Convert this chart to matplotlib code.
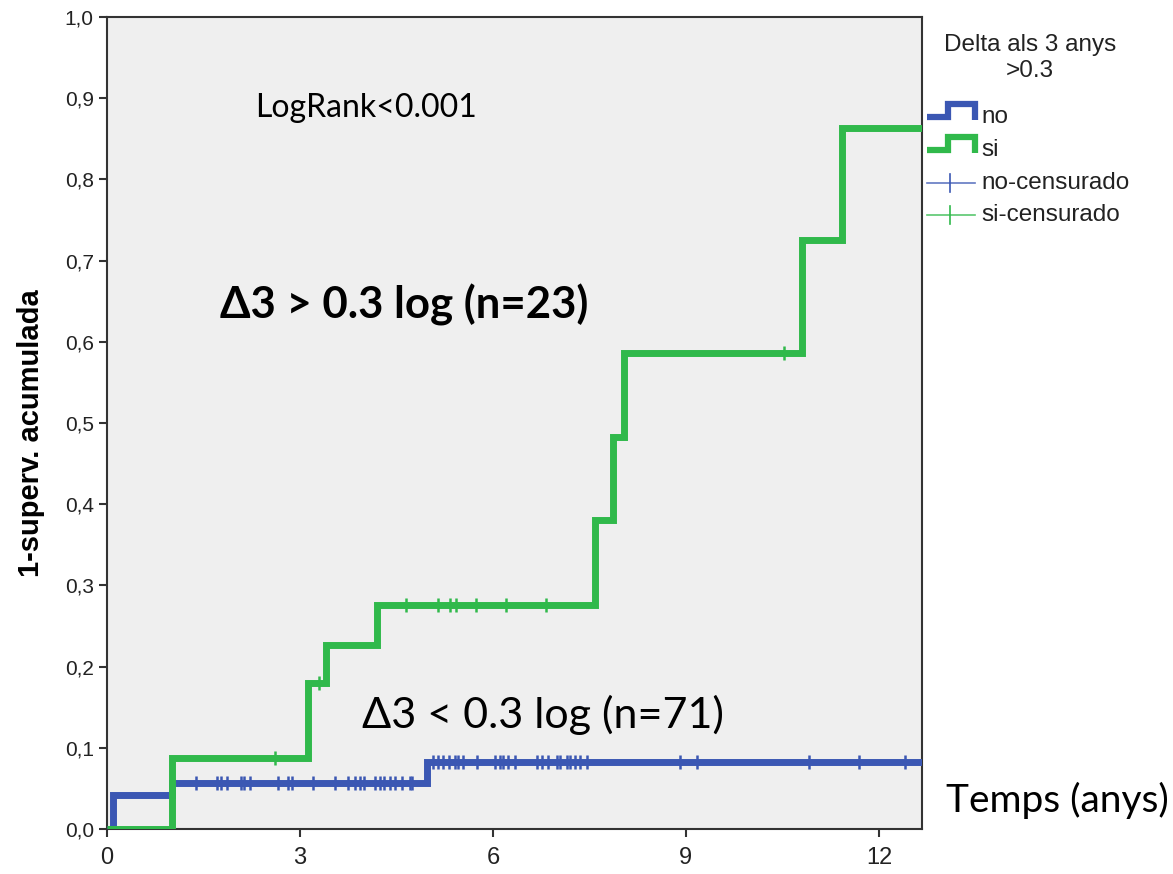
import numpy as np
import matplotlib
matplotlib.use("Agg")
import matplotlib.pyplot as plt

# cumulative incidence (1 - survival), Kaplan-Meier steps
green_times = [0.0, 1.01, 3.13, 3.40, 4.20, 7.59, 7.87, 8.03, 10.80, 11.42]
green_vals = [0.0, 0.087, 0.180, 0.227, 0.276, 0.381, 0.483, 0.586, 0.725, 0.863]
green_cens = [2.61, 3.30, 4.65, 5.15, 5.33, 5.43, 5.74, 6.20, 6.83, 10.52]

blue_times = [0.0, 0.10, 1.01, 4.98]
blue_vals = [0.0, 0.042, 0.057, 0.082]
blue_cens = [1.39, 1.71, 1.78, 1.86, 2.09, 2.13, 2.22, 2.66, 2.82, 2.87,
             3.21, 3.55, 3.75, 3.86, 3.93, 3.99, 4.17, 4.25, 4.30, 4.40,
             4.48, 4.58, 4.71, 4.74,
             5.07, 5.15, 5.23, 5.31, 5.41, 5.46, 5.54, 5.75, 6.03, 6.11,
             6.16, 6.24, 6.35, 6.68, 6.76, 6.86, 6.99, 7.05, 7.15, 7.20,
             7.28, 7.36, 7.46, 8.91, 9.17, 10.91, 11.69, 12.41]

x_max = 12.67
x_ticks = [0, 3, 6, 9, 12]
y_ticks = [0.0, 0.1, 0.2, 0.3, 0.4, 0.5, 0.6, 0.7, 0.8, 0.9, 1.0]

BLUE = "#3b57b3"
GREEN = "#30b94b"
W, H = 1173, 874
tick_font = ["Liberation Sans Narrow", "Liberation Sans", "DejaVu Sans"]
note_font = ["Lato", "DejaVu Sans"]


def step_value(times, vals, t):
    idx = np.searchsorted(times, t, side="right") - 1
    return np.asarray(vals)[idx]


fig = plt.figure(figsize=(W / 100, H / 100), dpi=100)
ax = fig.add_axes([107 / W, 1 - 829 / H, (922 - 107) / W, (829 - 17) / H])
ax.set_facecolor("#efefef")

for times, vals, cens, color in [(blue_times, blue_vals, blue_cens, BLUE),
                                 (green_times, green_vals, green_cens, GREEN)]:
    xs = list(times) + [x_max]
    ys = list(vals) + [vals[-1]]
    ax.step(xs, ys, where="post", color=color, lw=5,
            solid_joinstyle="miter", solid_capstyle="butt", zorder=3)
    ax.plot(cens, step_value(times, vals, cens), ls="none", marker="|",
            ms=10, mew=1.8, color=color, zorder=4)

ax.set_xlim(0, x_max)
ax.set_ylim(0, 1.0)
ax.set_xticks(x_ticks)
ax.set_yticks(y_ticks)
ax.set_yticklabels([f"{v:.1f}".replace(".", ",") for v in y_ticks])
ax.tick_params(direction="out", length=6, width=1.5, color="#333333",
               labelsize=15, labelcolor="#222222")
ax.tick_params(axis="x", labelsize=17, pad=7)
for lab in ax.get_xticklabels() + ax.get_yticklabels():
    lab.set_family(tick_font)
for sp in ax.spines.values():
    sp.set_color("#333333")
    sp.set_linewidth(1.5)

ax.set_ylabel("1-superv. acumulada", fontsize=21, fontweight="bold",
              family=["Liberation Sans", "DejaVu Sans"])
ax.yaxis.set_label_coords((45 - 107) / 815, 0.488)

# annotations (pixel positions converted to figure fractions)
def ftext(x, y, s, **kw):
    fig.text(x / W, 1 - y / H, s, **kw)

ftext(255, 108, "LogRank<0.001", fontsize=23, family=note_font, va="center")
ftext(220, 305, "Δ3 > 0.3 log (n=23)", fontsize=31.5, fontweight="bold",
      family=note_font, va="center")
ftext(362, 715, "Δ3 < 0.3 log (n=71)", fontsize=31, family=note_font,
      va="center")
ftext(946, 800, "Temps (anys)", fontsize=28, family=note_font, va="center")

# legend drawn on an overlay in pixel coordinates
lg = fig.add_axes([0, 0, 1, 1], facecolor="none")
lg.set_xlim(0, W)
lg.set_ylim(H, 0)
lg.axis("off")
lg.text(1030, 45, "Delta als 3 anys", fontsize=17.5, family=tick_font,
        ha="center", va="center", color="#222222")
lg.text(1030, 71, ">0.3", fontsize=17.5, family=tick_font,
        ha="center", va="center", color="#222222")
for y0, color, label in [(117, BLUE, "no"), (150, GREEN, "si")]:
    lg.plot([927, 948, 948, 975, 975], [y0, y0, y0 - 13, y0 - 13, y0 + 3],
            color=color, lw=4.5, solid_joinstyle="miter",
            solid_capstyle="butt")
    lg.text(981, y0, label, fontsize=17.5, family=tick_font, va="center",
            color="#222222")
for y0, color, label in [(183, BLUE, "no-censurado"),
                         (215, GREEN, "si-censurado")]:
    lg.plot([927, 975], [y0, y0], color=color, lw=1.2, alpha=0.8)
    lg.plot([950, 950], [y0 - 9, y0 + 9], color=color, lw=1.2)
    lg.text(981, y0, label, fontsize=17.5, family=tick_font, va="center",
            color="#222222")

fig.savefig("out.png", dpi=100)
